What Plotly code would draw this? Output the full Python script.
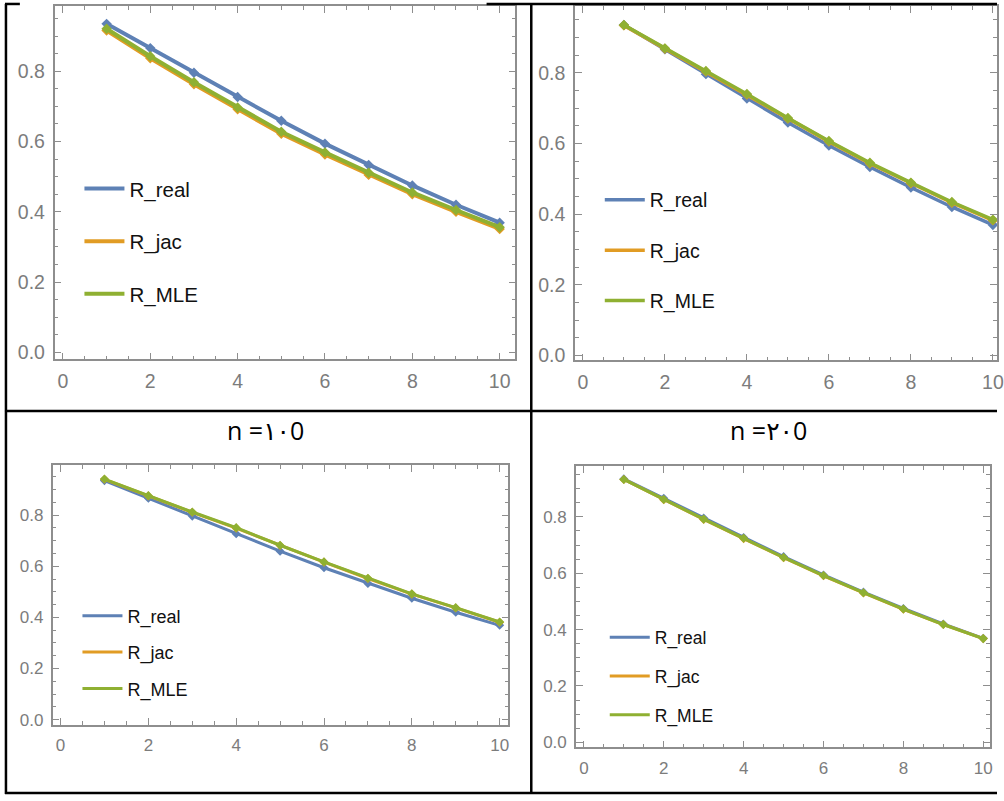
import plotly.graph_objects as go

W, H = 1004, 801

# ---------------- data ----------------
x_vals = [1, 2, 3, 4, 5, 6, 7, 8, 9, 10]
series_names = ["R_real", "R_jac", "R_MLE"]
R_real = [0.935, 0.866, 0.796, 0.727, 0.659, 0.594, 0.533, 0.475, 0.420, 0.369]

jac_A = [0.916, 0.837, 0.763, 0.692, 0.622, 0.563, 0.505, 0.450, 0.400, 0.351]
mle_A = [0.921, 0.843, 0.769, 0.697, 0.628, 0.569, 0.511, 0.455, 0.405, 0.356]

jac_B = [0.934, 0.868, 0.803, 0.738, 0.670, 0.605, 0.543, 0.487, 0.432, 0.382]
mle_B = [0.935, 0.869, 0.805, 0.740, 0.672, 0.607, 0.545, 0.489, 0.434, 0.384]

jac_C = [0.940, 0.875, 0.811, 0.749, 0.681, 0.616, 0.552, 0.491, 0.437, 0.381]
mle_C = [0.941, 0.876, 0.812, 0.751, 0.682, 0.617, 0.553, 0.492, 0.438, 0.382]

jac_D = [0.933, 0.861, 0.791, 0.723, 0.655, 0.591, 0.530, 0.472, 0.418, 0.368]
mle_D = [0.933, 0.862, 0.792, 0.724, 0.656, 0.592, 0.531, 0.473, 0.418, 0.368]

titles = ["n =\u0661\u06600", "n =\u0662\u06600"]
x_ticks = [0, 2, 4, 6, 8, 10]
y_ticks = [0.0, 0.2, 0.4, 0.6, 0.8]

colors = ["#5E81B5", "#E19C24", "#8FB032"]

def px(xp):
    return xp / W

def py(yp):
    return 1 - yp / H

# panel geometry (pixels) : left, right, top, bottom, xrange, yrange
panels = [
    dict(l=55, r=519, t=6, b=362, xr=[-0.19, 10.36], yr=[-0.020, 0.986],
         tf=dict(size=19.5, family="Liberation Sans, Arial", color="#7c7c7c"),
         lf=20.5, lw=4, ms=8, leg=(80, 170), gap=23,
         data=[R_real, jac_A, mle_A]),
    dict(l=579, r=1004, t=6, b=363, xr=[-0.194, 10.10], yr=[-0.014, 0.989],
         tf=dict(size=19.5, family="Liberation Sans, Arial", color="#7c7c7c"),
         lf=19.5, lw=3.5, ms=8, leg=(604, 182), gap=22,
         data=[R_real, jac_B, mle_B]),
    dict(l=53, r=512, t=469, b=730, xr=[-0.18, 10.20], yr=[-0.019, 0.994],
         tf=dict(size=17, family="Liberation Sans, Arial", color="#7c7c7c"),
         lf=18, lw=3, ms=7, leg=(78, 602), gap=10,
         data=[R_real, jac_C, mle_C]),
    dict(l=580, r=997, t=470, b=753, xr=[-0.199, 10.17], yr=[-0.018, 0.979],
         tf=dict(size=17, family="Liberation Sans, Arial", color="#7c7c7c"),
         lf=17.5, lw=3, ms=7, leg=(609, 624), gap=13,
         data=[R_real, jac_D, mle_D]),
]

fig = go.Figure()
layout = dict(width=W, height=H, margin=dict(l=0, r=0, t=0, b=0),
              paper_bgcolor="white", plot_bgcolor="white", showlegend=True)

axcol = "#8e8e8e"
for i, p in enumerate(panels):
    k = i + 1
    xa = "x" if k == 1 else f"x{k}"
    ya = "y" if k == 1 else f"y{k}"
    legname = "legend" if k == 1 else f"legend{k}"
    for j, name in enumerate(series_names):
        fig.add_trace(go.Scatter(
            x=x_vals, y=p["data"][j], mode="lines", name=name,
            line=dict(color=colors[j], width=p["lw"]),
            xaxis=xa, yaxis=ya, legend=legname, legendgroup=f"{k}-{name}",
            hoverinfo="skip"))
        fig.add_trace(go.Scatter(
            x=x_vals, y=p["data"][j], mode="markers", showlegend=False,
            marker=dict(symbol="diamond", size=p["ms"], color=colors[j]),
            xaxis=xa, yaxis=ya, hoverinfo="skip"))
    common = dict(showline=True, linecolor=axcol, linewidth=1.5, mirror="ticks",
                  ticks="inside", ticklen=7, tickwidth=1.3, tickcolor=axcol,
                  showgrid=False, zeroline=False, tickfont=p["tf"],
                  ticklabeloverflow="allow")
    layout["xaxis" if k == 1 else f"xaxis{k}"] = dict(
        domain=[px(p["l"]), px(p["r"])], range=p["xr"], anchor=ya,
        tickvals=x_ticks, ticktext=[str(v) for v in x_ticks],
        minor=dict(ticks="inside", ticklen=4, tickwidth=1, tickcolor=axcol, dtick=0.5, tick0=0),
        ticklabelstandoff=4, **common)
    layout["yaxis" if k == 1 else f"yaxis{k}"] = dict(
        domain=[py(p["b"]), py(p["t"])], range=p["yr"], anchor=xa,
        tickvals=y_ticks, ticktext=[f"{v:.1f}" for v in y_ticks],
        minor=dict(ticks="inside", ticklen=4, tickwidth=1, tickcolor=axcol, dtick=0.05, tick0=0),
        ticklabelstandoff=4, **common)
    layout[legname] = dict(x=px(p["leg"][0]), y=py(p["leg"][1]), xanchor="left", yanchor="top",
                           bgcolor="rgba(0,0,0,0)", borderwidth=0, itemwidth=40,
                           traceorder="grouped", tracegroupgap=p["gap"],
                           font=dict(size=p["lf"], family="Liberation Sans, Arial", color="#111111"))

# table borders
shapes = []
def hline(x0, x1, y):
    shapes.append(dict(type="line", xref="paper", yref="paper", x0=px(x0), x1=px(x1),
                       y0=py(y), y1=py(y), line=dict(color="black", width=2.5)))
def vline(x, y0, y1):
    shapes.append(dict(type="line", xref="paper", yref="paper", x0=px(x), x1=px(x),
                       y0=py(y0), y1=py(y1), line=dict(color="black", width=2.5)))
hline(5, 20, 4)
hline(490, 1004, 4)
hline(5, 1004, 414)
hline(5, 1004, 799)
vline(6, 4, 800)
vline(535, 4, 800)
layout["shapes"] = shapes

layout["annotations"] = [
    dict(text=titles[0], x=px(227), y=py(433), xref="paper", yref="paper", showarrow=False,
         xanchor="left", font=dict(size=25, family="Open Sans, Noto Sans, DejaVu Sans", color="black")),
    dict(text=titles[1], x=px(733), y=py(433), xref="paper", yref="paper", showarrow=False,
         xanchor="left", font=dict(size=25, family="Open Sans, Noto Sans, DejaVu Sans", color="black")),
]

fig.update_layout(**layout)
fig.write_html("out.html")
